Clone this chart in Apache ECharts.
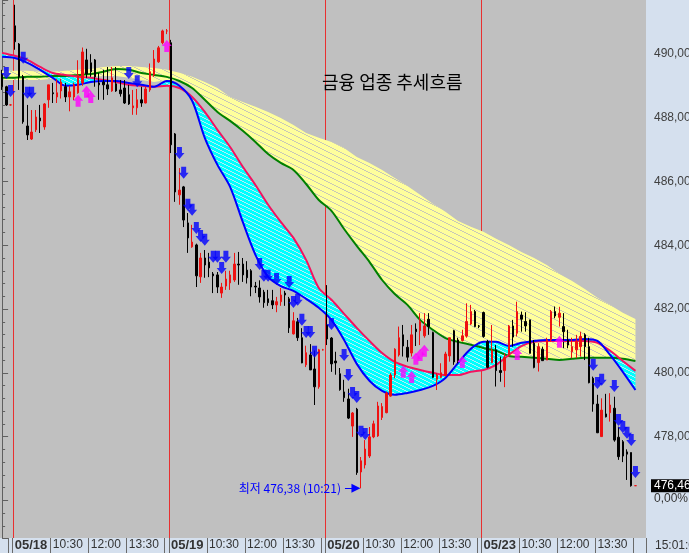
<!DOCTYPE html>
<html><head><meta charset="utf-8">
<script src="https://cdn.jsdelivr.net/npm/echarts@6/dist/echarts.min.js"></script>
<style>html,body{margin:0;padding:0;background:#d5e0ee;}#c{width:689px;height:553px;}</style>
</head><body><div id="c"></div>
<script>
// ---------------- DATA ----------------
const chartTitle = '금융 업종 추세흐름';
const clockLabel = '15:01:00';
const changeLabel = '0,00%';
const lowTimeLabel = '10:21';
const days = ['05/17', '05/18', '05/19', '05/20', '05/23'];
const barTimes = ['09:00','09:10','09:20','09:30','09:40','09:50','10:00','10:10','10:20','10:30','10:40','10:50',
  '11:00','11:10','11:20','11:30','11:40','11:50','12:00','12:10','12:20','12:30','12:40','12:50',
  '13:00','13:10','13:20','13:30','13:40','13:50','14:00','14:10','14:20','14:30','14:40','14:50','15:00'];
const labelTimes = ['10:30', '12:00', '13:30'];
const tickTimes = ['09:00', '10:30', '12:00', '13:30', '15:00'];
const emptySlotsRight = 2;

// candles: [open, close, low, high]
const candles0517 = [
  [489.37,488.97,488.87,489.50],[488.97,488.40,488.37,489.00],[488.40,488.40,488.38,488.42]
];
const candles0518 = [
  [490.88,490.38,490.13,491.54],[490.31,489.28,488.87,490.34],[489.28,487.87,487.81,489.34],
  [487.74,487.46,487.30,488.40],[487.33,487.55,487.30,488.24],[487.62,488.02,487.55,488.24],
  [487.99,487.90,487.52,488.40],[487.71,488.43,487.62,488.46],[488.56,489.03,488.31,489.03],
  [488.78,488.75,488.46,489.09],[488.65,488.78,488.46,489.22],[488.84,489.12,488.60,489.22],
  [488.97,488.65,488.49,489.09],[488.65,488.81,488.20,489.00],[488.65,489.03,488.55,489.10],
  [488.78,489.34,488.75,489.80],[489.09,490.06,489.00,490.20],[489.81,489.37,489.25,490.16],
  [489.72,489.44,489.28,489.99],[489.81,489.28,488.97,489.84],[489.09,489.03,488.56,489.40],
  [489.12,489.03,488.56,489.50],[489.03,488.90,488.71,489.59],[488.84,489.25,488.81,489.59],
  [489.06,488.84,488.81,489.59],[488.87,488.75,488.66,489.18],[488.93,488.46,488.43,489.18],
  [488.72,488.43,488.40,489.03],[488.31,488.37,488.09,488.87],[488.31,488.56,488.09,488.90],
  [488.56,488.46,488.34,488.97],[488.46,488.90,488.45,488.97],[488.87,489.44,488.81,489.70],
  [489.34,489.84,489.28,490.12],[489.75,490.19,489.72,490.25],[490.35,490.72,490.30,490.76],
  [490.72,490.72,490.62,490.78]
];
const candles0519 = [
  [490.35,487.15,486.89,490.44],[487.49,485.67,485.36,487.52],[485.58,485.73,485.27,486.42],
  [485.83,484.79,484.57,485.86],[484.70,484.23,483.76,485.01],[483.95,484.10,483.92,484.64],
  [484.01,483.04,482.69,484.05],[483.01,483.60,482.82,483.76],[483.60,483.38,482.98,483.85],
  [483.47,483.29,483.00,483.76],[483.10,483.04,482.50,483.16],[483.07,482.69,482.50,483.16],
  [482.50,482.69,482.35,482.82],[482.72,482.94,482.60,483.20],[482.82,483.07,482.60,483.20],
  [482.91,483.41,482.85,483.76],[483.41,483.38,482.76,483.79],[483.41,483.07,482.85,483.60],
  [483.22,482.98,482.80,483.50],[483.20,482.69,482.40,483.25],[482.72,482.69,482.50,482.85],
  [482.66,482.38,482.20,482.90],[482.53,482.20,482.04,482.60],[482.32,482.20,482.10,482.60],
  [482.26,482.13,482.00,482.60],[482.13,482.23,481.90,482.38],[482.23,482.44,482.10,482.66],
  [482.50,482.44,482.10,482.57],[482.32,481.41,481.25,482.38],[481.22,481.63,481.20,481.90],
  [481.60,481.10,481.00,481.72],[481.10,480.31,480.30,481.40],[480.25,480.63,480.18,480.85],
  [480.56,480.09,480.09,480.90],[480.12,479.56,478.99,480.70],[479.56,480.72,479.50,480.75],
  [480.72,480.72,480.70,480.75]
];
const candles0520 = [
  [481.50,481.06,480.87,482.75],[481.09,480.28,480.03,481.12],[480.37,480.31,479.94,480.66],
  [479.97,479.47,479.44,480.15],[479.40,479.22,479.09,479.78],[479.18,478.58,478.55,479.50],
  [478.33,478.74,477.99,478.77],[478.86,476.87,476.80,478.90],[476.89,477.24,476.38,477.36],
  [477.11,477.61,477.00,477.89],[477.39,477.99,477.33,478.30],[477.99,478.40,477.95,478.50],
  [478.02,478.96,477.99,479.09],[478.60,478.94,478.52,479.05],[478.75,479.36,478.73,479.41],
  [479.27,479.93,479.25,479.99],[479.93,480.74,479.83,480.77],[480.56,481.10,480.51,481.45],
  [481.19,480.84,480.51,481.50],[480.80,480.49,480.35,481.03],[480.62,481.19,480.51,481.50],
  [481.37,481.29,480.84,481.55],[481.32,481.61,480.87,481.87],[481.16,481.47,481.10,481.87],
  [481.68,481.45,481.19,481.87],[481.26,479.86,479.83,481.29],[479.80,479.93,479.46,479.99],
  [479.86,480.00,479.83,480.30],[479.92,480.59,479.88,480.66],[480.53,481.10,480.35,481.10],
  [481.32,480.34,480.25,481.35],[481.03,480.38,480.30,481.10],[481.01,481.16,480.98,481.35],
  [481.15,481.61,481.10,482.18],[481.53,481.92,481.50,482.13],[481.92,481.45,481.43,481.97],
  [481.47,481.46,481.40,481.50]
];
const candles0523 = [
  [481.89,481.14,481.10,481.92],[480.98,480.17,480.14,481.03],[480.32,480.69,480.30,481.50],
  [480.72,480.07,479.57,480.87],[480.07,480.01,479.72,480.51],[480.07,480.49,479.55,480.61],
  [480.53,481.47,480.51,481.50],[481.47,481.12,480.82,481.66],[481.24,481.92,481.14,482.23],
  [481.81,481.68,481.29,481.92],[481.61,481.47,481.29,481.90],[481.66,480.61,480.61,481.66],
  [480.93,480.17,480.14,481.03],[480.32,480.82,480.04,480.93],[480.74,480.38,480.38,480.82],
  [480.40,481.03,480.40,481.10],[481.03,481.92,480.98,481.97],[481.92,481.78,481.71,482.08],
  [481.74,481.87,481.45,482.07],[481.45,481.29,480.77,481.87],[481.03,480.87,480.77,481.35],
  [480.66,480.82,480.46,481.10],[480.72,480.98,480.46,481.19],[480.82,481.14,480.51,481.29],
  [481.19,480.82,480.40,481.24],[480.82,479.69,479.67,481.10],[479.83,479.02,478.78,479.88],
  [479.02,478.12,478.11,479.31],[478.00,478.83,478.00,479.20],[478.71,478.62,478.60,479.34],
  [478.75,478.99,478.47,479.36],[478.89,477.89,477.84,479.25],[477.98,477.37,477.27,478.31],
  [477.84,477.39,477.20,477.89],[477.52,477.45,476.64,477.60],[477.50,476.46,476.43,477.50],
  [476.46,476.46,476.46,476.46]
];

// indicator lines, read at these bar indices
const sampleIdx = [0,3,6,9,12,15,18,21,24,27,30,33,36,39,42,45,48,51,54,57,60,63,66,69,72,75,
  78,81,84,87,90,93,96,99,102,105,108,111,114,117,120,123,126,129,132,135,138,141,144,147,150];
const greenMA = [489.25,489.25,489.28,489.28,489.31,489.31,489.34,489.37,489.44,489.53,489.50,489.40,489.34,489.28,
  489.15,488.93,488.56,488.18,487.90,487.59,487.24,486.86,486.58,486.36,485.92,485.42,
  485.08,484.51,483.98,483.48,482.91,482.47,482.13,481.66,481.35,481.09,480.97,480.88,
  480.78,480.69,480.53,480.50,480.47,480.44,480.40,480.44,480.47,480.47,480.47,480.44,480.37];
const redMA = [490.03,489.94,489.81,489.59,489.40,489.34,489.28,489.25,489.18,489.12,489.03,489.00,488.97,489.00,
  488.93,488.65,488.18,487.62,487.08,486.46,485.89,485.27,484.73,484.23,483.54,482.66,
  482.29,481.85,481.41,481.00,480.62,480.34,480.19,480.09,480.00,479.93,479.93,480.03,
  480.09,480.25,480.56,480.84,480.97,481.00,481.00,481.00,481.00,480.94,480.69,480.37,480.06];
const blueMA = [489.91,489.87,489.72,489.50,489.25,489.00,489.03,489.12,489.15,489.15,489.09,489.03,488.97,489.15,
  489.00,488.53,487.37,486.52,485.83,484.73,483.70,483.01,482.72,482.57,482.32,482.04,
  481.66,481.03,480.28,479.75,479.43,479.31,479.37,479.46,479.59,479.84,480.31,480.75,
  480.97,480.97,480.84,480.94,481.00,481.03,481.03,481.03,481.06,481.00,480.56,480.03,479.46];
const yellowTop = [489.47,489.47,489.47,489.44,489.44,489.47,489.50,489.53,489.59,489.62,489.62,489.59,489.56,489.50,
  489.41,489.28,489.12,488.93,488.65,488.49,488.34,488.18,487.99,487.77,487.52,487.37,
  487.24,487.05,486.77,486.58,486.36,486.11,485.86,485.58,485.30,485.05,484.76,484.58,
  484.42,484.20,484.01,483.79,483.60,483.38,483.10,482.88,482.63,482.35,482.13,481.88,481.69];
// lower edge of the yellow fan on 05/17-05/18 (afterwards it follows the green line)
const yellowLowEarly = [489.18,489.18,489.18,489.18,489.22,489.22,489.25,489.28,489.31,489.31,489.25,489.18,489.12,489.18];

// signal arrows [barIndex, value]
const sellSignals = [[1,489.40],[2,488.84],[5,489.88],[6,488.78],[7,488.78],[30,489.40],[32,489.14],
  [42,486.89],[43,486.27],[44,485.27],[45,485.11],[46,484.54],[47,484.29],[48,484.17],[50,483.64],[51,483.64],
  [52,483.29],[53,483.64],[61,483.41],[62,483.04],[63,483.04],[65,482.94],[68,482.85],[69,482.22],[70,482.29],
  [71,481.66],[72,481.28],[73,481.28],[74,480.66],[78,481.53],[81,480.56],[82,479.93],[83,479.37],[84,479.24],
  [85,478.15],[86,478.08],[140,480.25],[141,479.68],[142,479.78],[145,479.59],[146,478.52],[147,478.30],
  [148,478.12],[149,477.89],[150,476.89]];
const buySignals = [[18,488.53],[20,488.81],[21,488.65],[39,490.25],[95,480.03],[97,479.87],[98,480.44],
  [99,480.56],[100,480.69],[109,480.34],[122,480.59],[132,480.97]];

// ---------------- BUILD ----------------
const candles = [].concat(candles0517, candles0518, candles0519, candles0520, candles0523);
const prevDayBars = candles0517.length;
const nSlots = candles.length + emptySlotsRight;
function slotInfo(k) {
  if (k < prevDayBars) return { day: 0, d: barTimes.length - prevDayBars + k };
  const j = k - prevDayBars;
  const day = 1 + Math.floor(j / barTimes.length);
  if (day >= days.length || k >= candles.length) return null;
  return { day: day, d: j % barTimes.length };
}
const categories = [];
for (let k = 0; k < nSlots; k++) {
  const s = slotInfo(k);
  categories.push(s ? days[s.day] + ' ' + barTimes[s.d] : 'pad' + k);
}
const pairs = arr => sampleIdx.map((k, i) => [k, arr[i]]);
const yellowLow = yellowLowEarly.concat(greenMA.slice(yellowLowEarly.length));

let lowIdx = 0;
candles.forEach((c, i) => { if (c[2] < candles[lowIdx][2]) lowIdx = i; });
const lowVal = candles[lowIdx][2];
const lastClose = candles[candles.length - 1][1];
const fmtNum = v => v.toFixed(2).replace('.', ',');

const dayStarts = [];
for (let dd = 1; dd < days.length; dd++) dayStarts.push(prevDayBars + (dd - 1) * barTimes.length);

function makePattern(dot, w, h, pts) {
  const c = document.createElement('canvas'); c.width = w; c.height = h;
  const g = c.getContext('2d'); g.clearRect(0, 0, w, h);
  g.fillStyle = dot; pts.forEach(p => g.fillRect(p[0], p[1], 1, 1));
  return c;
}
const diag12 = [[0,0],[1,0],[2,1],[3,1],[4,2],[5,2],[6,3],[7,3],[8,4],[9,4],[10,5],[11,5]];
const diag8 = [[0,0],[1,0],[2,1],[3,1],[4,2],[5,2],[6,3],[7,3]];
const yPat = makePattern('#cacab6', 12, 6, diag12);
const cPat = makePattern('#b4eef2', 8, 4, diag8);

// ribbon between two sampled edges, mapped through the axes' scales
function ribbon(lowArr, highArr, solid, pattern, z) {
  return {
    type: 'custom', xAxisIndex: 1, yAxisIndex: 0, silent: true, z: z,
    data: pairs(lowArr), encode: { x: 0, y: 1 },
    renderItem: (params, api) => {
      if (params.dataIndex !== 0) return null;
      const pts = [];
      for (let i = 0; i < sampleIdx.length; i++) pts.push(api.coord([sampleIdx[i], lowArr[i]]));
      for (let i = sampleIdx.length - 1; i >= 0; i--) pts.push(api.coord([sampleIdx[i], highArr[i]]));
      return { type: 'group', children: [
        { type: 'polygon', shape: { points: pts }, style: { fill: solid, stroke: null } },
        { type: 'polygon', shape: { points: pts }, style: { fill: { image: pattern, repeat: 'repeat' }, stroke: null } }
      ] };
    }
  };
}

const arrowDown = 'path://M2.5,0 L7.5,0 L7.5,5.5 L10,5.5 L5,11 L0,5.5 L2.5,5.5 Z';
const arrowUp = 'path://M5,0 L10,5.5 L7.5,5.5 L7.5,11 L2.5,11 L2.5,5.5 L0,5.5 Z';
const lab = 'Liberation Sans, Arial, sans-serif';

const chart = echarts.init(document.getElementById('c'), null, { renderer: 'canvas' });
chart.setOption({
  animation: false,
  backgroundColor: '#d5e0ee',
  title: [
    { text: chartTitle, left: 322, top: 73, padding: 0,
      textStyle: { fontFamily: 'Noto Sans CJK KR', fontSize: 18, fontWeight: 'normal', color: '#000' } },
    { text: clockLabel, left: 655, top: 540, padding: 0,
      textStyle: { fontFamily: lab, fontSize: 12, fontWeight: 'normal', color: '#333' } }
  ],
  grid: { left: 0, right: 43, top: 0, bottom: 15, show: true, backgroundColor: '#c0c0c0', borderWidth: 0,
    containLabel: false, outerBoundsMode: 'none' },
  xAxis: [
    { type: 'category', data: categories, boundaryGap: true,
      axisLine: { show: false },
      axisTick: { show: true, length: 15, lineStyle: { color: '#6a6a6a', width: 1 },
        interval: i => { const s = slotInfo(i); return !!s && tickTimes.indexOf(barTimes[s.d]) >= 0; } },
      axisLabel: { show: true, align: 'left', margin: 1, fontFamily: lab, fontSize: 12, color: '#333',
        interval: i => { const s = slotInfo(i); return !!s && s.day > 0 && (s.d === 0 || labelTimes.indexOf(barTimes[s.d]) >= 0); },
        formatter: (v, i) => { const s = slotInfo(i); if (!s) return ''; return s.d === 0 ? '{d|' + days[s.day] + '}' : barTimes[s.d]; },
        rich: { d: { fontFamily: lab, fontSize: 13, fontWeight: 'bold', color: '#333' } } },
      splitLine: { show: false }, splitArea: { show: false } },
    { type: 'value', min: -0.5, max: nSlots - 0.5, show: false,
      axisLine: { show: false }, axisTick: { show: false }, axisLabel: { show: false },
      splitLine: { show: false }, splitArea: { show: false } }
  ],
  yAxis: {
    type: 'value', position: 'right', scale: true, min: 474.82, max: 491.69, minInterval: 2, maxInterval: 2,
    axisLine: { show: true, lineStyle: { color: '#606060', width: 1 } },
    axisTick: { show: true, length: 6, lineStyle: { color: '#606060' } },
    minorTick: { show: true, splitNumber: 5, length: 3, lineStyle: { color: '#606060' } },
    splitLine: { show: false },
    axisLabel: { margin: 8, fontFamily: lab, fontSize: 12, color: '#404040',
      formatter: v => { const r = Math.round(v * 100) / 100; if (Math.abs(r / 2 - Math.round(r / 2)) > 1e-6) return '';
        if (Math.abs(r - Math.round(lastClose)) < 1e-6) return ''; return fmtNum(r); } }
  },
  series: [
    { type: 'custom', xAxisIndex: 1, yAxisIndex: 0, silent: true, z: 1,
      data: dayStarts.map(k => [k - 0.5, lastClose]), encode: { x: 0, y: 1 },
      renderItem: (params, api) => {
        const cs = params.coordSys;
        const x = Math.round(api.coord([api.value(0), api.value(1)])[0]) + 0.5;
        return { type: 'line', shape: { x1: x, y1: cs.y, x2: x, y2: cs.y + cs.height },
          style: { stroke: '#e83030', lineWidth: 1 } };
      } },
    ribbon(yellowLow, yellowTop, '#ffff9c', yPat, 2),
    ribbon(blueMA, redMA, '#00ffff', cPat, 2),
    { type: 'line', xAxisIndex: 1, data: pairs(greenMA), symbol: 'none', smooth: 0.3,
      lineStyle: { color: '#008000', width: 2 }, silent: true, z: 3 },
    { type: 'line', xAxisIndex: 1, data: pairs(redMA), symbol: 'none', smooth: 0.3,
      lineStyle: { color: '#f5125f', width: 2 }, silent: true, z: 3 },
    { type: 'line', xAxisIndex: 1, data: pairs(blueMA), symbol: 'none', smooth: 0.3,
      lineStyle: { color: '#0000ff', width: 2 }, silent: true, z: 3 },
    { type: 'candlestick', xAxisIndex: 0, data: candles, barWidth: 2, z: 4,
      itemStyle: { color: '#ee1111', color0: '#000000', borderColor: '#ee1111', borderColor0: '#000000', borderWidth: 1 },
      markLine: { silent: true, symbol: 'none', lineStyle: { color: 'rgba(0,0,0,0)', width: 0 },
        data: [
          { yAxis: lastClose, label: { show: true, position: 'end', distance: 5, formatter: fmtNum(lastClose),
              color: '#fff', backgroundColor: '#000', padding: [1, 3, 0, 3], fontFamily: lab, fontSize: 12 } },
          { yAxis: lastClose, label: { show: true, position: 'end', distance: 8, offset: [0, 13], formatter: changeLabel,
              color: '#333', fontFamily: lab, fontSize: 12 } }
        ] } },
    { type: 'scatter', xAxisIndex: 1, data: sellSignals, symbol: arrowDown, symbolSize: [10, 12],
      itemStyle: { color: '#0000ff' }, silent: true, z: 5,
      markLine: { silent: true, symbol: ['none', 'triangle'], symbolSize: 9,
        lineStyle: { color: '#0000ff', width: 1, type: 'solid' },
        label: { show: true, position: 'start', distance: 4, formatter: '최저 ' + fmtNum(lowVal) + ' (' + lowTimeLabel + ')',
          color: '#0000ff', fontFamily: 'Noto Sans CJK KR', fontSize: 12 },
        data: [[{ coord: [lowIdx - 3.8, lowVal] }, { coord: [lowIdx - 1.2, lowVal] }]] } },
    { type: 'scatter', xAxisIndex: 1, data: buySignals, symbol: arrowUp, symbolSize: [10, 12],
      itemStyle: { color: '#ff00ff' }, silent: true, z: 5 }
  ]
});
</script></body></html>
